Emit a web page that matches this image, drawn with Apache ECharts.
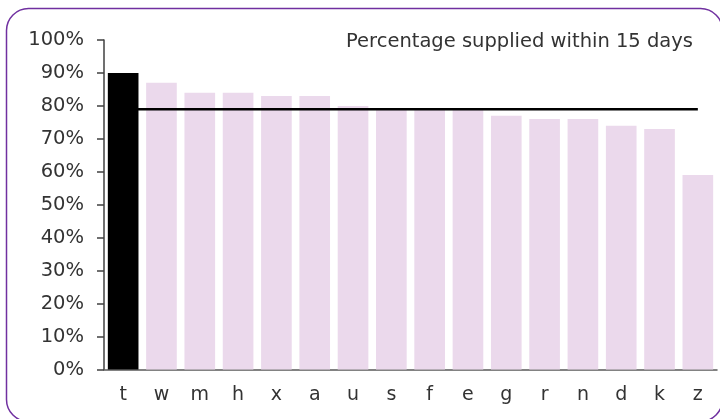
<!DOCTYPE html>
<html>
<head>
<meta charset="utf-8">
<script src="https://cdn.jsdelivr.net/npm/echarts@6/dist/echarts.min.js"></script>
<style>
  html, body { margin: 0; padding: 0; background: #fff; }
  #chart { width: 720px; height: 419px; }
</style>
</head>
<body>
<div id="chart"></div>
<script>
// Regions, ordered by share supplied within 15 days
var categories = ['t', 'w', 'm', 'h', 'x', 'a', 'u', 's', 'f', 'e', 'g', 'r', 'n', 'd', 'k', 'z'];
var supplied = [90, 87, 84, 84, 83, 83, 80, 79, 79, 79, 77, 76, 76, 74, 73, 59];
// Overall average shown as a horizontal reference line
var averageValue = 79;
var averageLine = categories.map(function () { return averageValue; });
var yTicks = [0, 10, 20, 30, 40, 50, 60, 70, 80, 90, 100];

var FONT = 'DejaVu Sans';
var TEXT = '#333333';

var chart = echarts.init(document.getElementById('chart'), null, { renderer: 'canvas' });

chart.setOption({
  animation: false,
  backgroundColor: '#ffffff',
  title: {
    text: 'Percentage supplied within 15 days',
    right: 22,
    top: 27,
    textStyle: { fontFamily: FONT, fontSize: 19.5, fontWeight: 'normal', color: TEXT }
  },
  grid: { left: 104, right: 3, top: 40, bottom: 49.5 },
  xAxis: {
    type: 'category',
    data: categories,
    axisLine: { lineStyle: { color: '#595959', width: 1.5 } },
    axisTick: { show: false },
    axisLabel: { fontFamily: FONT, fontSize: 19, color: TEXT, margin: 16 }
  },
  yAxis: {
    type: 'value',
    min: yTicks[0],
    max: yTicks[yTicks.length - 1],
    interval: 10,
    splitLine: { show: false },
    axisLine: { show: true, lineStyle: { color: '#404040', width: 1.5 } },
    axisTick: { show: true, length: 7, lineStyle: { color: '#404040', width: 1.5 } },
    axisLabel: {
      fontFamily: FONT, fontSize: 19.5, color: TEXT, margin: 20,
      formatter: '{value}%'
    }
  },
  series: [
    {
      type: 'bar',
      data: supplied.map(function (v, i) {
        return i === 0 ? { value: v, itemStyle: { color: '#000000' } } : v;
      }),
      barCategoryGap: '20%',
      itemStyle: { color: '#EBD9EC' },
      z: 2
    },
    {
      type: 'line',
      data: averageLine,
      symbol: 'none',
      lineStyle: { color: '#000000', width: 2.5 },
      z: 3
    }
  ],
  graphic: [
    {
      type: 'rect',
      shape: { x: 6.5, y: 8.5, width: 716, height: 413, r: 22 },
      style: { fill: 'none', stroke: '#7030A0', lineWidth: 1.5 },
      silent: true,
      z: 10
    }
  ]
});
</script>
</body>
</html>
